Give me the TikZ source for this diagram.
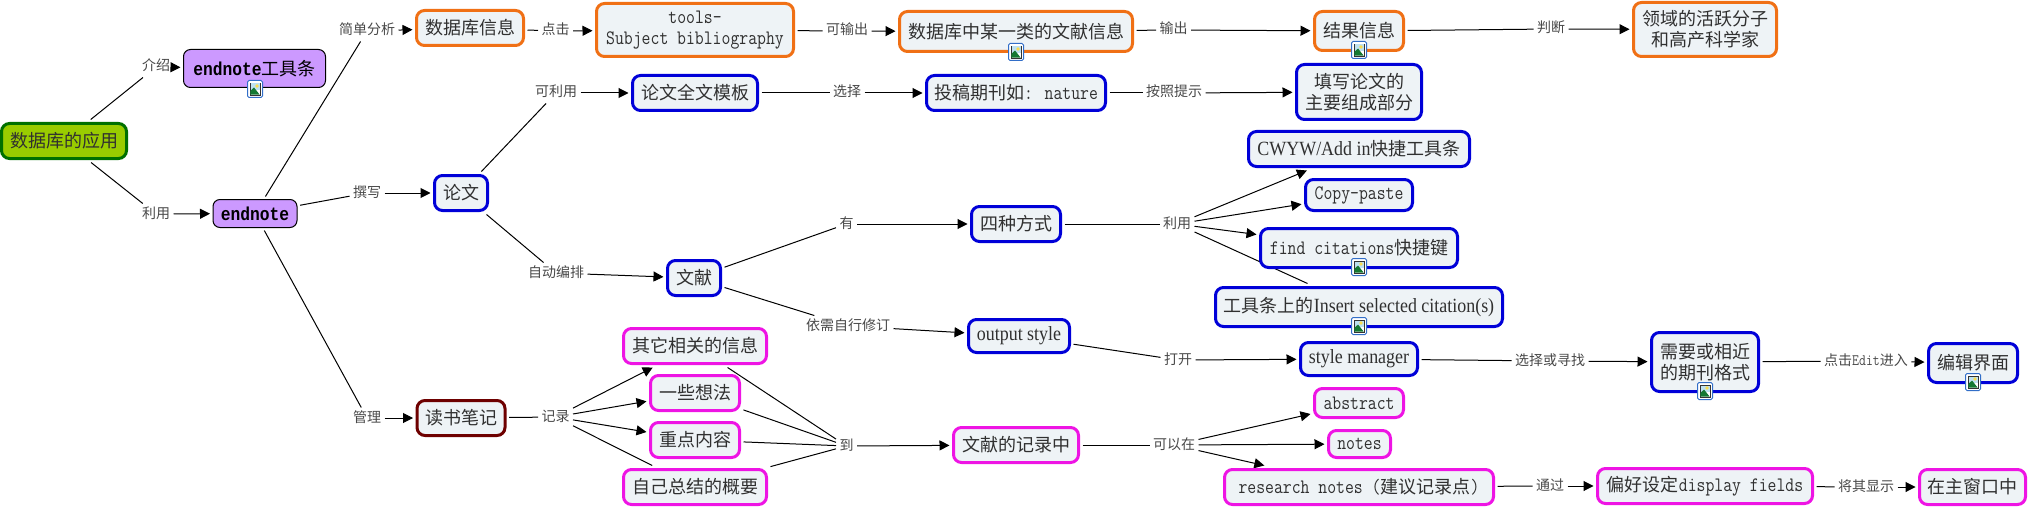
\documentclass[tikz,border=0pt]{standalone}
\usepackage{fontspec}
\setmainfont{Noto Sans CJK SC}
\newfontfamily\mo[Scale=1.14,FakeStretch=0.84]{Latin Modern Mono}
\newfontfamily\se[Scale=1.12,FakeStretch=0.89]{Liberation Serif}
\newfontfamily\mob[Scale=1.04,FakeStretch=0.87]{Liberation Mono}
\usetikzlibrary{arrows.meta,backgrounds}
\definecolor{boxfill}{HTML}{EEF3F6}
\definecolor{orangeb}{HTML}{F07015}
\definecolor{blueb}{HTML}{0000D8}
\definecolor{magb}{HTML}{EE14E4}
\definecolor{redb}{HTML}{6E0000}
\definecolor{greenb}{HTML}{007000}
\definecolor{rootfill}{HTML}{99CC00}
\definecolor{purplefill}{HTML}{CC99FF}
\definecolor{txt}{HTML}{303030}
\definecolor{lbl}{HTML}{484848}
\definecolor{icoedge}{HTML}{326EC8}
\definecolor{icosky}{HTML}{BEE1F0}
\definecolor{icosun}{HTML}{FADC50}
\definecolor{icohill}{HTML}{147832}
\tikzset{
  x=1pt,y=-1pt,
  box/.style={draw,rounded corners=8pt,line width=3pt,fill=boxfill,inner sep=0pt,outer sep=4pt,
    align=center,text=txt,font=\fontsize{18pt}{21pt}\selectfont},
  orangebox/.style={box,draw=orangeb},
  bluebox/.style={box,draw=blueb},
  magbox/.style={box,draw=magb},
  redbox/.style={box,draw=redb},
  rootbox/.style={box,draw=greenb,fill=rootfill},
  purplebox/.style={box,draw=black,line width=1pt,outer sep=3pt,rounded corners=7pt,fill=purplefill,text=black},
  lab/.style={inner sep=2pt,outer sep=1.5pt,text=lbl,text height=11pt,text depth=3pt,font=\fontsize{14pt}{16pt}\selectfont},
  link/.style={draw=black,line width=1pt},
  arr/.style={link,-{Triangle[length=10pt,width=10pt]}}
}
\newcommand{\pimg}[1]{%
  \begin{scope}[shift={#1}]
    \fill[white,draw=icoedge,line width=1pt,rounded corners=1.5pt] (-7.5,-8.5) rectangle (7.5,8.5);
    \fill[white,draw=black!80,line width=0.8pt] (-5,-6) rectangle (5,6);
    \fill[icosky] (-4.5,-5.5) rectangle (4.5,1);
    \fill[icosun] (2,-3) circle (1.8);
    \fill[icohill] (-4.6,5.6) -- (-4.6,2) -- (-1,-1.5) -- (4.6,5.6) -- cycle;
  \end{scope}}
\begin{document}
\begin{tikzpicture}
\useasboundingbox (0,0) rectangle (2028,508);
% nodes
\node[rootbox,minimum width=125pt,minimum height=35pt] (root) at (64,141) {数据库的应用};
\node[purplebox,minimum width=142pt,minimum height=38pt] (ent) at (254.5,68.5) {{\mob\bfseries endnote}工具条};
\node[purplebox,minimum width=84pt,minimum height=28pt] (en) at (255,213.5) {{\mob\bfseries endnote}};
\node[orangebox,minimum width=107pt,minimum height=35pt] (dbinfo) at (470,28) {数据库信息};
\node[orangebox,minimum width=197pt,minimum height=53pt] (tools) at (695,30) {\mo tools-\\\mo Subject bibliography};
\node[orangebox,minimum width=233pt,minimum height=40pt] (cat) at (1016,31.5) {数据库中某一类的文献信息};
\node[orangebox,minimum width=89pt,minimum height=39pt] (result) at (1359,31) {结果信息};
\node[orangebox,minimum width=143pt,minimum height=54pt] (field) at (1705,29.5) {领域的活跃分子\\和高产科学家};
\node[bluebox,minimum width=125pt,minimum height=35pt] (tmpl) at (695,93) {论文全文模板};
\node[bluebox,minimum width=179pt,minimum height=35pt] (journal) at (1016,93) {投稿期刊如{\mo : nature}};
\node[bluebox,minimum width=125pt,minimum height=55pt] (fill) at (1359,92) {填写论文的\\主要组成部分};
\node[bluebox,minimum width=221pt,minimum height=35pt] (cwyw) at (1359,149) {{\se CWYW/Add in}快捷工具条};
\node[bluebox,minimum width=107pt,minimum height=31pt] (copy) at (1359,195) {\mo Copy-paste};
\node[bluebox,minimum width=197pt,minimum height=39pt] (find) at (1359,248) {{\mo find citations}快捷键};
\node[bluebox,minimum width=287pt,minimum height=39pt] (tool) at (1359,307) {工具条上的{\se Insert selected citation(s)}};
\node[bluebox,minimum width=117pt,minimum height=33pt] (sm) at (1359,359) {\se style manager};
\node[bluebox,minimum width=107pt,minimum height=59pt] (need) at (1705,362) {需要或相近\\的期刊格式};
\node[bluebox,minimum width=89pt,minimum height=39pt] (edit) at (1973,363) {编辑界面};
\node[bluebox,minimum width=53pt,minimum height=35pt] (paper) at (461,193) {论文};
\node[bluebox,minimum width=53pt,minimum height=35pt] (wx) at (694,278) {文献};
\node[bluebox,minimum width=89pt,minimum height=35pt] (four) at (1016,224) {四种方式};
\node[bluebox,minimum width=101pt,minimum height=33pt] (output) at (1019,336) {\se output style};
\node[redbox,minimum width=88pt,minimum height=35pt] (reading) at (461,418) {读书笔记};
\node[magbox,minimum width=143pt,minimum height=35pt] (other) at (695,346) {其它相关的信息};
\node[magbox,minimum width=89pt,minimum height=35pt] (idea) at (695,393) {一些想法};
\node[magbox,minimum width=89pt,minimum height=35pt] (key) at (695,440) {重点内容};
\node[magbox,minimum width=143pt,minimum height=35pt] (sum) at (695,487) {自己总结的概要};
\node[magbox,minimum width=125pt,minimum height=35pt] (rec) at (1016,445) {文献的记录中};
\node[magbox,minimum width=89pt,minimum height=29pt] (abs) at (1359,403) {\mo abstract};
\node[magbox,minimum width=62pt,minimum height=27pt] (nts) at (1359.5,444) {\mo notes};
\node[magbox,minimum width=269pt,minimum height=35pt] (res) at (1359,487) {{\mo research notes (}建议记录点{\mo )}};
\node[magbox,minimum width=215pt,minimum height=35pt] (pref) at (1705,486) {偏好设定{\mo display fields}};
\node[magbox,minimum width=106pt,minimum height=35pt] (win) at (1972.5,487) {在主窗口中};
% link labels
\node[lab] (l1) at (156,67) {介绍};
\node[lab] (l2) at (156,214) {利用};
\node[lab] (l3) at (367,31) {简单分析};
\node[lab] (l4) at (367,193) {撰写};
\node[lab] (l5) at (367,418) {管理};
\node[lab] (l6) at (555.5,31) {点击};
\node[lab] (l7) at (847,31) {可输出};
\node[lab] (l8) at (1173.5,30) {输出};
\node[lab] (l9) at (1551,29) {判断};
\node[lab] (l10) at (556,93) {可利用};
\node[lab] (l11) at (847,93) {选择};
\node[lab] (l12) at (1174,93) {按照提示};
\node[lab] (l13) at (556,273) {自动编排};
\node[lab] (l14) at (846.5,224) {有};
\node[lab] (l15) at (1177,224) {利用};
\node[lab] (l16) at (848,326) {依需自行修订};
\node[lab] (l17) at (1178,360) {打开};
\node[lab] (l18) at (1550,361) {选择或寻找};
\node[lab] (l19) at (1866,361) {点击{\mo Edit}进入};
\node[lab] (l20) at (555.5,417) {记录};
\node[lab] (l21) at (846.5,446) {到};
\node[lab] (l22) at (1174,445) {可以在};
\node[lab] (l23) at (1550,486) {通过};
\node[lab] (l24) at (1866,487) {将其显示};
% connectors
\begin{pgfonlayer}{background}
\draw[link] (root) -- (l1); \draw[arr] (l1) -- (ent);
\draw[link] (root) -- (l2); \draw[arr] (l2) -- (en);
\draw[link] (en) -- (l3); \draw[arr] (l3) -- (dbinfo);
\draw[link] (en) -- (l4); \draw[arr] (l4) -- (paper);
\draw[link] (en) -- (l5); \draw[arr] (l5) -- (reading);
\draw[link] (dbinfo) -- (l6); \draw[arr] (l6) -- (tools);
\draw[link] (tools) -- (l7); \draw[arr] (l7) -- (cat);
\draw[link] (cat) -- (l8); \draw[arr] (l8) -- (result);
\draw[link] (result) -- (l9); \draw[arr] (l9) -- (field);
\draw[link] (paper) -- (l10); \draw[arr] (l10) -- (tmpl);
\draw[link] (tmpl) -- (l11); \draw[arr] (l11) -- (journal);
\draw[link] (journal) -- (l12); \draw[arr] (l12) -- (fill);
\draw[link] (paper) -- (l13); \draw[arr] (l13) -- (wx);
\draw[link] (wx) -- (l14); \draw[arr] (l14) -- (four);
\draw[link] (four) -- (l15);
\draw[arr] (l15) -- (cwyw); \draw[arr] (l15) -- (copy); \draw[arr] (l15) -- (find); \draw[link] (l15) -- (tool);
\draw[link] (wx) -- (l16); \draw[arr] (l16) -- (output);
\draw[link] (output) -- (l17); \draw[arr] (l17) -- (sm);
\draw[link] (sm) -- (l18); \draw[arr] (l18) -- (need);
\draw[link] (need) -- (l19); \draw[arr] (l19) -- (edit);
\draw[link] (reading) -- (l20);
\draw[arr] (l20) -- (other); \draw[arr] (l20) -- (idea); \draw[arr] (l20) -- (key); \draw[link] (l20) -- (sum);
\draw[link] (other) -- (l21); \draw[link] (idea) -- (l21); \draw[link] (key) -- (l21); \draw[link] (sum) -- (l21);
\draw[arr] (l21) -- (rec);
\draw[link] (rec) -- (l22);
\draw[arr] (l22) -- (abs); \draw[arr] (l22) -- (nts); \draw[arr] (l22) -- (res);
\draw[link] (res) -- (l23); \draw[arr] (l23) -- (pref);
\draw[link] (pref) -- (l24); \draw[arr] (l24) -- (win);
\end{pgfonlayer}
% picture markers
\pimg{(255,89)}
\pimg{(1016,52)}
\pimg{(1359,50)}
\pimg{(1359,267)}
\pimg{(1359,326)}
\pimg{(1705,391)}
\pimg{(1973,382)}
\end{tikzpicture}
\end{document}
